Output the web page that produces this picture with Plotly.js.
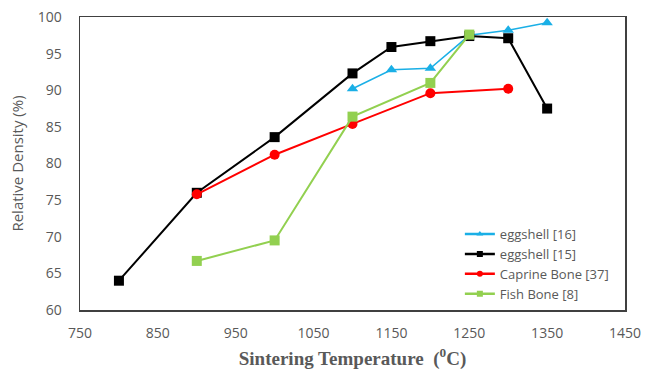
<!DOCTYPE html>
<html><head><meta charset="utf-8">
<script src="https://cdn.plot.ly/plotly-3.0.1.min.js"></script>
<style>body{margin:0;background:#fff}#c{width:656px;height:374px}</style>
</head><body><div id="c"></div>
<script>
const egg16X = [1100, 1150, 1200, 1250, 1300, 1350];
const egg16Y = [90.2, 92.8, 93.0, 97.5, 98.2, 99.2];
const egg15X = [800, 900, 1000, 1100, 1150, 1200, 1250, 1300, 1350];
const egg15Y = [64.0, 76.0, 83.6, 92.3, 95.9, 96.7, 97.4, 97.1, 87.5];
const caprineX = [900, 1000, 1100, 1200, 1300];
const caprineY = [75.8, 81.2, 85.4, 89.6, 90.2];
const fishX = [900, 1000, 1100, 1200, 1250];
const fishY = [66.7, 69.5, 86.4, 91.0, 97.6];
const xTicks = [750, 850, 950, 1050, 1150, 1250, 1350, 1450];
const yTicks = [60, 65, 70, 75, 80, 85, 90, 95, 100];

const series = [
  {x: egg16X, y: egg16Y, name: 'eggshell [16]', color: '#1AAFE6', sym: 'triangle-up', w: 1.5},
  {x: egg15X, y: egg15Y, name: 'eggshell [15]', color: '#000000', sym: 'square', w: 2},
  {x: caprineX, y: caprineY, name: 'Caprine Bone [37]', color: '#FF0000', sym: 'circle', w: 2},
  {x: fishX, y: fishY, name: 'Fish Bone [8]', color: '#92D050', sym: 'square', w: 2}
];
const traces = [];
series.forEach(s => {
  traces.push({x: s.x, y: s.y, name: s.name, mode: 'lines+markers', showlegend: false,
    line: {color: s.color, width: s.w}, marker: {symbol: s.sym, size: 10, color: s.color}});
});
series.forEach(s => {
  traces.push({x: [null], y: [null], name: s.name, mode: 'lines+markers', showlegend: true,
    line: {color: s.color, width: 2.5}, marker: {symbol: s.sym, size: 6, color: s.color}});
});

const tickFont = {family: 'Open Sans, Liberation Sans, sans-serif', size: 14, color: '#595959'};
const layout = {
  width: 656, height: 374,
  margin: {l: 80, r: 31, t: 17, b: 64},
  paper_bgcolor: '#fff', plot_bgcolor: '#fff',
  showlegend: true,
  legend: {x: 0.697, y: 0.003, xanchor: 'left', yanchor: 'bottom', bgcolor: 'rgba(0,0,0,0)',
           font: {family: 'Open Sans, Liberation Sans, sans-serif', size: 13, color: '#595959'},
           tracegroupgap: 0, itemwidth: 30},
  xaxis: {range: [750, 1450], tickvals: xTicks, ticktext: xTicks.map(String),
          showgrid: false, zeroline: false, showline: true, mirror: true,
          linecolor: '#404040', linewidth: 1.5, ticks: 'outside', ticklen: 10,
          tickcolor: 'rgba(0,0,0,0)', tickfont: tickFont,
          title: {text: '<b>Sintering Temperature  (<sup>0</sup>C)</b>',
                  font: {family: 'Liberation Serif, serif', size: 19, color: '#595959'}, standoff: 10}},
  yaxis: {range: [60, 100], tickvals: yTicks, ticktext: yTicks.map(String),
          showgrid: false, zeroline: false, showline: true, mirror: true,
          linecolor: '#404040', linewidth: 1.5, ticks: 'outside', ticklen: 14,
          tickcolor: 'rgba(0,0,0,0)', tickfont: tickFont,
          title: {text: 'Relative Density (%)',
                  font: {family: 'Open Sans, Liberation Sans, sans-serif', size: 15, color: '#595959'}, standoff: 10}}
};
Plotly.newPlot('c', traces, layout, {displayModeBar: false, staticPlot: true});
</script></body></html>
